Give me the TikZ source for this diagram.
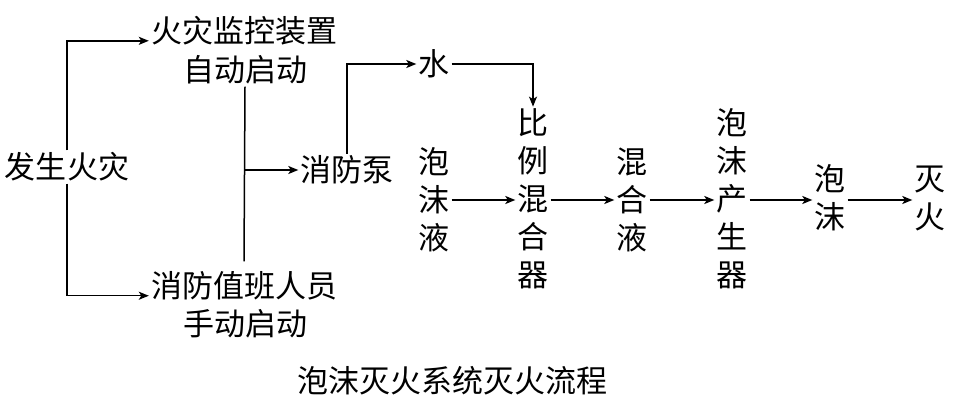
\documentclass[tikz,border=0pt]{standalone}
\usepackage{fontspec}
\newfontfamily\cjk{Noto Sans CJK SC}
\usetikzlibrary{arrows.meta,calc}
\begin{document}
\begin{tikzpicture}[x=1pt,y=-1pt,
  txt/.style={font=\cjk\fontsize{31}{38}\selectfont, inner sep=2pt, align=center},
  conn/.style={line width=1.5pt},
  arr/.style={conn, -{Stealth[length=10pt,width=8pt,inset=2.5pt]}}]
\useasboundingbox (0,0) rectangle (957,402);
\fill[white] (0,0) rectangle (957,402);
% nodes
\node[txt] (fire) at (67,167) {发生火灾};
\node[txt] (auto1) at (244,31) {火灾监控装置};
\node[txt] (auto2) at (245,70) {自动启动};
\node[txt] (man1) at (244,286) {消防值班人员};
\node[txt] (man2) at (245,324) {手动启动};
\node[txt] (pump) at (347,170) {消防泵};
\node[txt] (water) at (434,64) {水};
\node[txt] (foamliq) at (434,200) {泡\\沫\\液};
\node[txt] (ratio) at (533,199) {比\\例\\混\\合\\器};
\node[txt] (mixliq) at (632,200) {混\\合\\液};
\node[txt] (gen) at (732,199) {泡\\沫\\产\\生\\器};
\node[txt] (foam) at (830,198) {泡\\沫};
\node[txt] (ext) at (930,198) {灭\\火};
\node[txt] (cap) at (452,381) {泡沫灭火系统灭火流程};
% connectors
\draw[arr] (fire.north) |- ([yshift=2pt]auto1.base west);
\draw[arr] (fire.south) |- ([yshift=2pt]man1.base west);
\draw[conn] (auto2.south) -- ([yshift=8pt]man1.north);
\coordinate (br) at (auto2.south |- pump.west);
\draw[arr] (br) -- (pump.west);
\draw[arr] (pump.north) |- (water.west);
\draw[arr] (water.east) -| (ratio.north);
\draw[arr] (foamliq.east) -- (ratio.west |- foamliq.east);
\draw[arr] (ratio.east |- foamliq.east) -- (mixliq.west |- foamliq.east);
\draw[arr] (mixliq.east) -- (gen.west |- mixliq.east);
\draw[arr] (gen.east |- mixliq.east) -- (foam.west |- mixliq.east);
\draw[arr] (foam.east |- mixliq.east) -- (ext.west |- mixliq.east);
\end{tikzpicture}
\end{document}
